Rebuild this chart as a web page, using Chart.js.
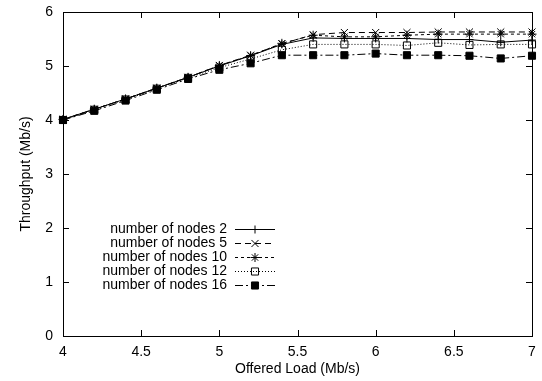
<!DOCTYPE html>
<html>
<head>
<meta charset="utf-8">
<script src="https://cdn.jsdelivr.net/npm/chart.js@4/dist/chart.umd.min.js"></script>
<style>
  html, body { margin: 0; padding: 0; background: #fff; }
  #wrap { width: 542px; height: 381px; }
</style>
</head>
<body>
<div id="wrap"><canvas id="chart" width="542" height="381"></canvas></div>
<script>
// offered load (Mb/s)
const offeredLoad = [4.0, 4.2, 4.4, 4.6, 4.8, 5.0, 5.2, 5.4, 5.6, 5.8, 6.0, 6.2, 6.4, 6.6, 6.8, 7.0];

// throughput (Mb/s)
const nodes2  = [4.01, 4.20, 4.39, 4.59, 4.79, 5.00, 5.19, 5.40, 5.52, 5.51, 5.51, 5.51, 5.49, 5.49, 5.44, 5.48];
const nodes5  = [4.01, 4.20, 4.39, 4.59, 4.79, 5.01, 5.20, 5.41, 5.58, 5.62, 5.62, 5.62, 5.63, 5.63, 5.63, 5.63];
const nodes10 = [4.01, 4.20, 4.39, 4.59, 4.79, 5.01, 5.19, 5.42, 5.57, 5.54, 5.54, 5.57, 5.59, 5.59, 5.59, 5.59];
const nodes12 = [4.00, 4.19, 4.38, 4.58, 4.78, 4.97, 5.13, 5.30, 5.40, 5.40, 5.40, 5.38, 5.43, 5.39, 5.40, 5.40];
const nodes16 = [4.00, 4.17, 4.36, 4.56, 4.76, 4.93, 5.05, 5.20, 5.20, 5.20, 5.23, 5.20, 5.20, 5.19, 5.14, 5.19];

const seriesLabels = ['number of nodes 2', 'number of nodes 5', 'number of nodes 10', 'number of nodes 12', 'number of nodes 16'];

const FONT = 'Liberation Sans, Arial, Helvetica, sans-serif';

function toPoints(values) {
    return values.map((v, i) => ({ x: offeredLoad[i], y: v }));
}

// gnuplot-ish style per series
const styles = [
    { dash: [],            point: 'cross',    radius: 4,   fill: '#000' },
    { dash: [6, 4],        point: 'crossRot', radius: 5,   fill: '#000' },
    { dash: [3, 3],        point: 'star',     radius: 4.5, fill: '#000' },
    { dash: [1, 2],        point: 'rect',     radius: 5,   fill: 'rgba(0,0,0,0)' },
    { dash: [8, 3, 2, 3],  point: 'rect',     radius: 5,   fill: '#000' }
];

const allSeries = [nodes2, nodes5, nodes10, nodes12, nodes16];

const datasets = allSeries.map((vals, i) => ({
    label: seriesLabels[i],
    data: toPoints(vals),
    borderColor: '#000',
    borderWidth: 1,
    borderDash: styles[i].dash,
    pointStyle: styles[i].point,
    pointRadius: styles[i].radius,
    pointBorderColor: '#000',
    pointBackgroundColor: styles[i].fill,
    pointBorderWidth: 1,
    tension: 0,
    fill: false,
    clip: false
}));

// frame + inward ticks on all four sides
const framePlugin = {
    id: 'frame',
    afterDatasetsDraw(chart) {
        const { ctx, chartArea: a, scales } = chart;
        const tl = 6;
        ctx.save();
        ctx.strokeStyle = '#000';
        ctx.lineWidth = 1;
        ctx.setLineDash([]);
        ctx.strokeRect(Math.round(a.left) + 0.5, Math.round(a.top) + 0.5,
            Math.round(a.right - a.left), Math.round(a.bottom - a.top));
        ctx.beginPath();
        scales.x.ticks.forEach(t => {
            const px = Math.round(scales.x.getPixelForValue(t.value)) + 0.5;
            ctx.moveTo(px, a.bottom); ctx.lineTo(px, a.bottom - tl);
            ctx.moveTo(px, a.top); ctx.lineTo(px, a.top + tl);
        });
        scales.y.ticks.forEach(t => {
            const py = Math.round(scales.y.getPixelForValue(t.value)) + 0.5;
            ctx.moveTo(a.left, py); ctx.lineTo(a.left + tl, py);
            ctx.moveTo(a.right, py); ctx.lineTo(a.right - tl, py);
        });
        ctx.stroke();
        ctx.restore();
    }
};

// key in the lower left, text right-aligned with sample to its right
const keyPlugin = {
    id: 'key',
    afterDatasetsDraw(chart) {
        const ctx = chart.ctx;
        const textRight = 227, lineFrom = 235, lineTo = 275;
        const top = 228.5, step = 14;
        ctx.save();
        ctx.font = '14px ' + FONT;
        ctx.fillStyle = '#000';
        ctx.textAlign = 'right';
        ctx.textBaseline = 'middle';
        chart.data.datasets.forEach((ds, i) => {
            const y = Math.round(top + i * step) + 0.5;
            ctx.fillText(ds.label, textRight, y);
            ctx.strokeStyle = '#000';
            ctx.lineWidth = 1;
            ctx.setLineDash(ds.borderDash);
            ctx.beginPath();
            ctx.moveTo(lineFrom, y);
            ctx.lineTo(lineTo, y);
            ctx.stroke();
            ctx.setLineDash([]);
            ctx.fillStyle = ds.pointBackgroundColor;
            ctx.strokeStyle = '#000';
            Chart.helpers.drawPoint(ctx, {
                pointStyle: ds.pointStyle,
                radius: ds.pointRadius,
                rotation: 0,
                borderWidth: 1
            }, (lineFrom + lineTo) / 2, y);
            ctx.fillStyle = '#000';
        });
        ctx.restore();
    }
};

new Chart(document.getElementById('chart'), {
    type: 'line',
    data: { datasets: datasets },
    options: {
        responsive: false,
        animation: false,
        devicePixelRatio: 1,
        layout: { padding: { left: 0, right: 10, top: 12, bottom: 0 } },
        plugins: {
            legend: { display: false },
            tooltip: { enabled: false }
        },
        scales: {
            x: {
                type: 'linear',
                min: 4,
                max: 7,
                grid: { display: false, drawTicks: false },
                border: { display: false },
                ticks: {
                    stepSize: 0.5,
                    color: '#000',
                    padding: 8,
                    maxRotation: 0,
                    font: { family: FONT, size: 14 },
                    callback: v => String(Math.round(v * 10) / 10)
                },
                title: {
                    display: true,
                    text: 'Offered Load (Mb/s)',
                    color: '#000',
                    font: { family: FONT, size: 14 },
                    padding: { top: 0, bottom: 3 }
                },
                afterFit(scale) {
                    scale.height = 45;
                    scale.paddingLeft = 0;
                    scale.paddingRight = 0;
                }
            },
            y: {
                min: 0,
                max: 6,
                grid: { display: false, drawTicks: false },
                border: { display: false },
                ticks: {
                    stepSize: 1,
                    color: '#000',
                    padding: 10,
                    font: { family: FONT, size: 14 }
                },
                title: {
                    display: true,
                    text: 'Throughput (Mb/s)',
                    color: '#000',
                    font: { family: FONT, size: 14 },
                    padding: { top: 18, bottom: 0 }
                },
                afterFit(scale) {
                    scale.width = 63;
                    scale.paddingTop = 0;
                    scale.paddingBottom = 0;
                }
            }
        }
    },
    plugins: [framePlugin, keyPlugin]
});
</script>
</body>
</html>
